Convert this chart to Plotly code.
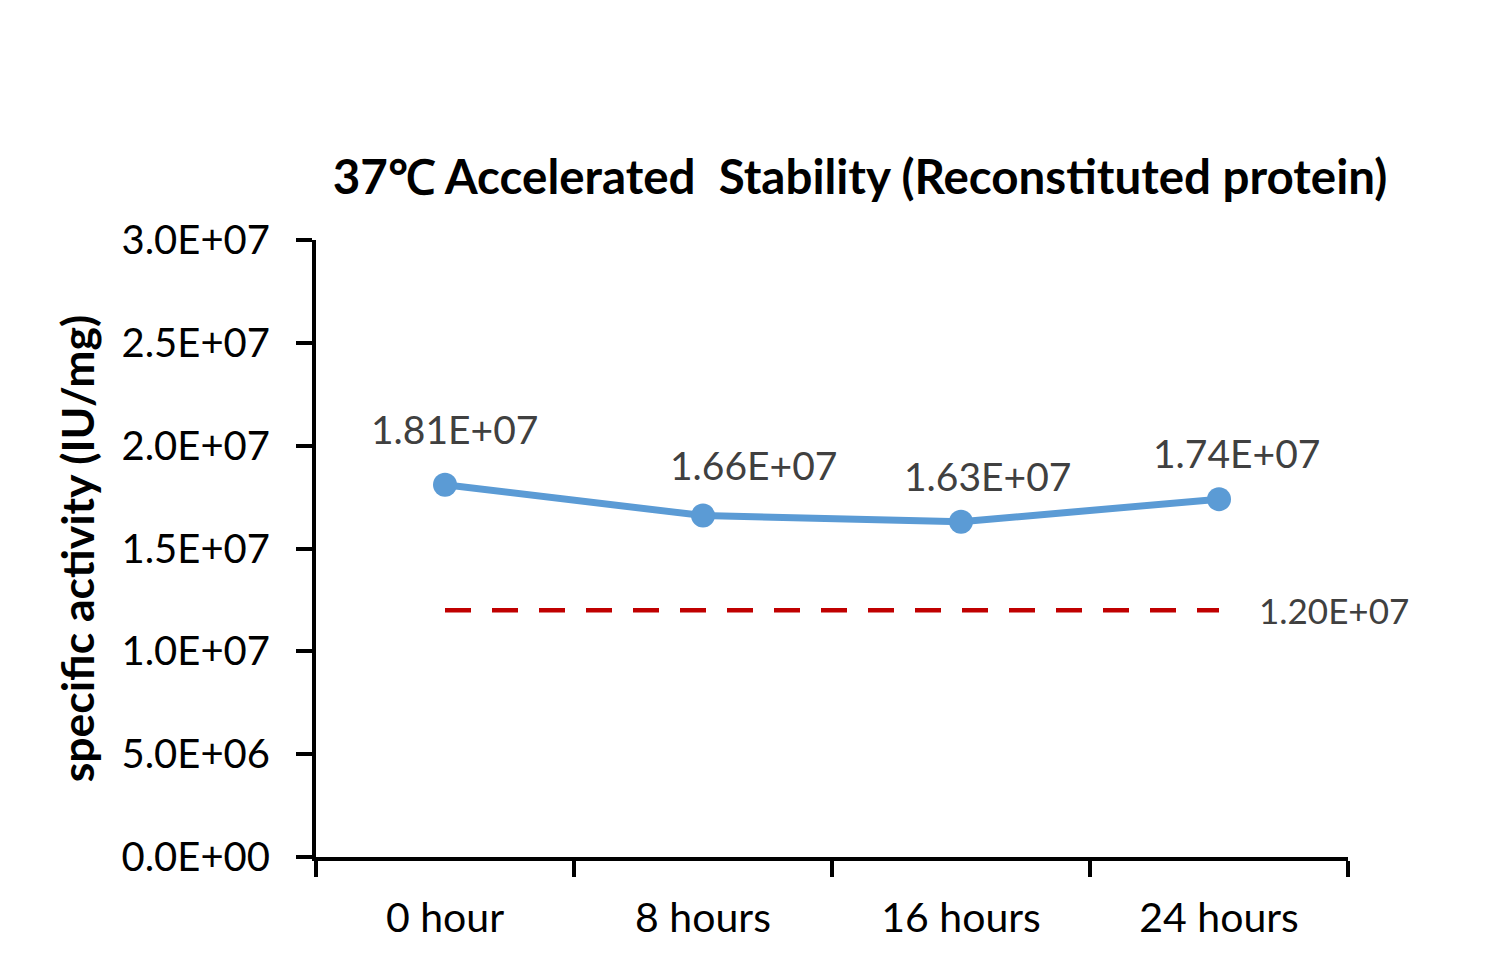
import plotly.graph_objects as go

categories = ["0 hour", "8 hours", "16 hours", "24 hours"]
activity = [1.81e7, 1.66e7, 1.63e7, 1.74e7]
threshold = [1.2e7, 1.2e7, 1.2e7, 1.2e7]
y_ticks = [0, 5e6, 1e7, 1.5e7, 2e7, 2.5e7, 3e7]

title_text = "37\u2103 Accelerated\u00a0 Stability (Reconstituted protein)"
y_title = "specific activity (IU/mg)"

FONT = "Lato, 'Open Sans', sans-serif"

fig = go.Figure()
fig.add_trace(go.Scatter(
    x=categories, y=threshold, mode="lines",
    line=dict(color="#C00000", width=4.5, dash="26px,21px"),
    hoverinfo="skip", showlegend=False))
fig.add_trace(go.Scatter(
    x=categories, y=activity, mode="lines+markers",
    line=dict(color="#5B9BD5", width=7),
    marker=dict(color="#5B9BD5", size=24),
    showlegend=False))

# data labels (manual offsets like the original)
label_dx = [9, 50, 26, 17]
label_dy = [56, 51, 46, 46]
for i, (c, v) in enumerate(zip(categories, activity)):
    fig.add_annotation(x=c, y=v, text="%.2E" % v, showarrow=False,
                       xshift=label_dx[i], yshift=label_dy[i],
                       font=dict(family=FONT, size=39, color="#404040"))
fig.add_annotation(x=categories[-1], y=threshold[-1], text="%.2E" % threshold[-1],
                   showarrow=False, xanchor="left", xshift=38, yshift=0,
                   font=dict(family=FONT, size=35, color="#404040"))

fig.update_layout(
    width=1504, height=962,
    margin=dict(l=308, r=164, t=232, b=113),
    paper_bgcolor="white", plot_bgcolor="white",
    title=dict(text="<b>" + title_text + "</b>", x=0.5665, xanchor="center",
               y=1 - 169 / 962, yanchor="middle",
               font=dict(family=FONT, size=47.5, color="black")),
    font=dict(family=FONT, color="black"),
)
fig.update_xaxes(
    range=[-0.5, 3.5], tickson="boundaries", ticks="outside", ticklen=16,
    tickwidth=4, tickcolor="black", showline=True, linecolor="black",
    linewidth=4, showgrid=False, zeroline=False, ticklabelstandoff=22,
    tickfont=dict(family=FONT, size=41, color="black"))
fig.update_yaxes(
    range=[0, 3e7], tickvals=y_ticks, ticktext=["%.1E" % t for t in y_ticks],
    ticks="outside", ticklen=16, tickwidth=4, tickcolor="black",
    showline=True, linecolor="black", linewidth=4, showgrid=False,
    zeroline=False, ticklabelstandoff=18,
    tickfont=dict(family=FONT, size=40, color="black"),
    title=dict(text="<b>" + y_title + "</b>", standoff=14,
               font=dict(family=FONT, size=44.5, color="black")))

fig.write_html("out.html")
